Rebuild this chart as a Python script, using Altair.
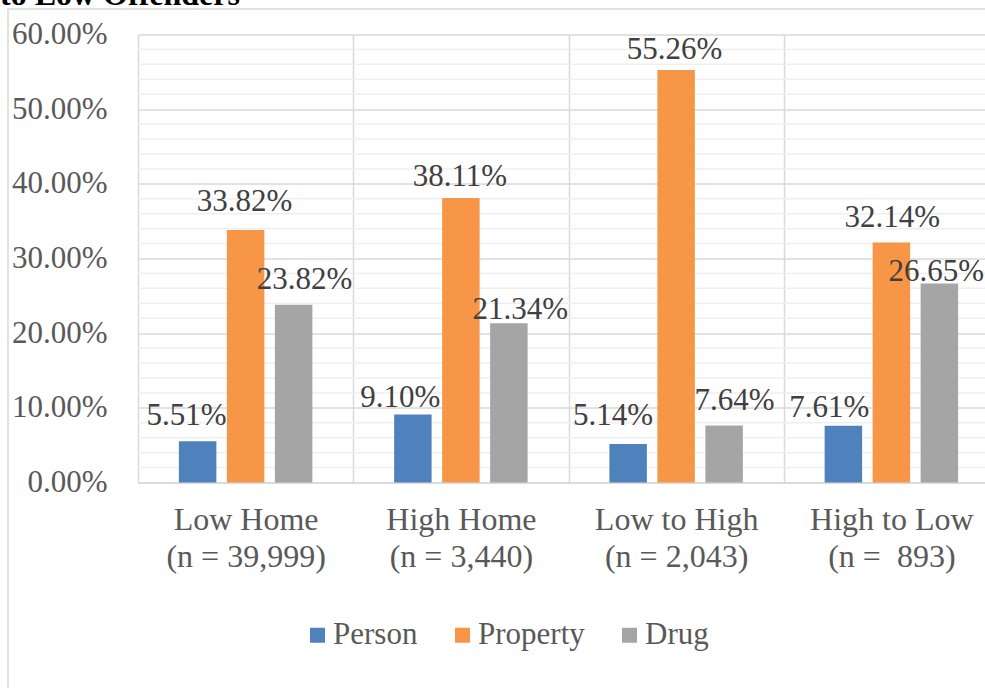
import altair as alt
import pandas as pd

# ---- data ----
groups = ["Low Home", "High Home", "Low to High", "High to Low"]
group_sizes = ["39,999", "3,440", "2,043", "\u00a0893"]
series = ["Person", "Property", "Drug"]
person = [5.51, 9.10, 5.14, 7.61]
property_ = [33.82, 38.11, 55.26, 32.14]
drug = [23.82, 21.34, 7.64, 26.65]
major_ticks = [0, 10, 20, 30, 40, 50, 60]
minor_ticks = [2, 4, 6, 8, 12, 14, 16, 18, 22, 24, 26, 28, 32, 34, 36, 38,
               42, 44, 46, 48, 52, 54, 56, 58]
colors = ["#4f81bd", "#f79646", "#a5a5a5"]
title_text = "to Low Offenders"

# label nudges (dx, dy) in pixels, per series and group, as placed in the original
label_nudge = {
    "Person": [(-11, -16), (-12.5, -8), (-15, -19), (-14, -9)],
    "Property": [(-1, -19), (-1, -12), (-1.5, -11), (1, -16)],
    "Drug": [(11, -16), (11.5, -4), (10.5, -15), (-3, -3)],
}

labels = [f"{g}\n(n = {n})" for g, n in zip(groups, group_sizes)]
rows = []
for i, lab in enumerate(labels):
    for s, vals in zip(series, [person, property_, drug]):
        rows.append({"group": lab, "gi": i, "series": s, "value": vals[i]})
df = pd.DataFrame(rows)
minor_df = pd.DataFrame({"v": minor_ticks})

FONT = "Liberation Serif"
FS = 31

x_enc = alt.X(
    "group:N", sort=labels,
    scale=alt.Scale(range=[0, 861], paddingInner=0, paddingOuter=0),
    axis=alt.Axis(title=None, labelExpr="split(datum.label, '\\n')", labelAngle=0,
                  ticks=False, grid=True, tickBand="extent",
                  gridColor="#d9d9d9", gridWidth=1.5,
                  domainColor="#d9d9d9", domainWidth=1.5,
                  labelFont=FONT, labelFontSize=32, labelColor="#595959",
                  labelPadding=22, labelLineHeight=37, labelBaseline="top"),
)
y_axis = alt.Axis(title=None, values=major_ticks,
                  labelExpr="format(datum.value, '.2f') + '%'",
                  domain=False, ticks=False, grid=True,
                  gridColor="#d9d9d9", gridWidth=1.5,
                  labelFont=FONT, labelFontSize=FS, labelColor="#595959",
                  labelPadding=31)
y_scale = alt.Scale(domain=[0, 60], nice=False)
xoff_enc = alt.XOffset("series:N", sort=series,
                       scale=alt.Scale(paddingInner=0.219, paddingOuter=0.852))

frame = alt.Chart(alt.Data(values=[{}])).mark_rect(
    fill="transparent", stroke="#d9d9d9", strokeWidth=1.5
).encode(x=alt.value(-130), x2=alt.value(900), y=alt.value(-25.5), y2=alt.value(720))

title = alt.Chart(alt.Data(values=[{}])).mark_text(
    text=title_text, font=FONT, fontSize=32, fontWeight="bold",
    align="left", baseline="alphabetic", color="black"
).encode(x=alt.value(-138), y=alt.value(-30))

minor = alt.Chart(minor_df).mark_rule(color="#efefef", strokeWidth=1.5).encode(
    y=alt.Y("v:Q", scale=y_scale, axis=y_axis)
)

base = alt.Chart(df).encode(
    x=x_enc,
    xOffset=xoff_enc,
    y=alt.Y("value:Q", scale=y_scale, axis=y_axis),
)

bars = base.mark_bar().encode(
    color=alt.Color("series:N", sort=series,
                    scale=alt.Scale(domain=series, range=colors),
                    legend=alt.Legend(title=None, orient="none", legendX=164, legendY=585,
                                      direction="horizontal", symbolType="square",
                                      symbolSize=225, symbolStrokeWidth=0,
                                      labelFont=FONT, labelFontSize=FS,
                                      labelColor="#595959", labelOffset=0,
                                      columnPadding=29, padding=0))
)

text_layers = []
for s in series:
    for gi, (dx, dy) in enumerate(label_nudge[s]):
        text_layers.append(
            base.transform_filter((alt.datum.series == s) & (alt.datum.gi == gi))
            .transform_calculate(lbl="format(datum.value, '.2f') + '%'")
            .mark_text(font=FONT, fontSize=FS, color="#404040", align="center",
                       baseline="alphabetic", dx=dx, dy=dy)
            .encode(text="lbl:N")
        )

chart = alt.layer(frame, title, minor, bars, *text_layers).properties(
    width=847, height=448,
    padding={"left": 138, "top": 34.5, "right": 0, "bottom": 205.5},
    autosize=alt.AutoSizeParams(type="none"),
    background="white",
).configure_view(stroke=None)

chart.save("out.html", embed_options={"renderer": "svg", "actions": False})
